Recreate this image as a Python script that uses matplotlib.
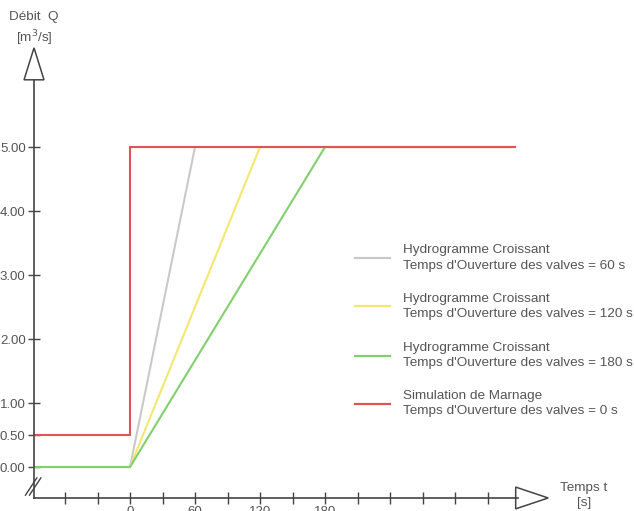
import matplotlib
matplotlib.use('Agg')
from matplotlib import pyplot as plt
from matplotlib.patches import Polygon
import numpy as np

plt.rcParams['font.family'] = ['Liberation Sans', 'DejaVu Sans']

# donnees (temps en s, debit en m3/s)
t_debut = -88.6
t_fin = 355
t_60 = [t_debut, 0, 60, t_fin]
q_60 = [0, 0, 5, 5]
t_120 = [t_debut, 0, 120, t_fin]
q_120 = [0, 0, 5, 5]
t_180 = [t_debut, 0, 180, t_fin]
q_180 = [0, 0, 5, 5]
t_marnage = [t_debut, 0, 0, t_fin]
q_marnage = [0.5, 0.5, 5, 5]

yticks = [0.0, 0.5, 1.0, 2.0, 3.0, 4.0, 5.0]
xticks = np.arange(-60, 331, 30)
xlabels_vis = [0, 60, 120, 180]

leg_titres = ['Hydrogramme Croissant', 'Hydrogramme Croissant',
              'Hydrogramme Croissant', 'Simulation de Marnage']
leg_temps = [60, 120, 180, 0]
couleurs = ['#c9c9c9', '#f2e870', '#82cf6e', '#e05454']

gris_txt = '#555555'
gris_axe = '#444444'

fig = plt.figure(figsize=(6.34, 5.11), dpi=100)
ax = fig.add_axes([0, 0, 1, 1])
ax.set_xlim(-120, 465.2)
ax.set_ylim(-0.6875, 7.297)

y_axe_x = -0.484
for t, q, c in zip([t_60, t_120, t_180, t_marnage],
                   [q_60, q_120, q_180, q_marnage], couleurs):
    ax.plot(t, q, color=c, lw=1.5, solid_joinstyle='miter')

# axes
for s in ['top', 'right']:
    ax.spines[s].set_visible(False)
ax.spines['left'].set_position(('data', t_debut))
ax.spines['left'].set_bounds(y_axe_x, 6.05)
ax.spines['bottom'].set_position(('data', y_axe_x))
ax.spines['bottom'].set_bounds(t_debut, 358)
for s in ['left', 'bottom']:
    ax.spines[s].set_color(gris_axe)
    ax.spines[s].set_linewidth(1.2)

ax.set_yticks(yticks)
ax.set_yticklabels(['%.2f' % v for v in yticks])
ax.set_xticks(xticks)
ax.set_xticklabels([str(v) if v in xlabels_vis else '' for v in xticks])
ax.tick_params(axis='both', direction='inout', length=8, width=1,
               colors=gris_axe, labelcolor=gris_txt, labelsize=9.5, pad=2)

# fleches
fl_y = Polygon([[-97.8, 6.05], [-79.4, 6.05], [t_debut, 6.55]], closed=True,
               fc='white', ec=gris_axe, lw=1.1, clip_on=False)
fl_x = Polygon([[356, y_axe_x - 0.17], [356, y_axe_x + 0.17], [386, y_axe_x]],
               closed=True, fc='white', ec=gris_axe, lw=1.1, clip_on=False)
ax.add_patch(fl_y)
ax.add_patch(fl_x)

# coupure de l'axe
for dx in [0, 3.7]:
    ax.plot([-96.5 + dx, -86 + dx], [-0.44, -0.17], color=gris_axe, lw=1)

ax.text(t_debut, 6.84, 'Débit  Q\n[m$^3$/s]', ha='center', va='center',
        color=gris_txt, fontsize=9.7, linespacing=1.4)
ax.text(419, -0.44, 'Temps t\n[s]', ha='center', va='center',
        color=gris_txt, fontsize=9.7, linespacing=1.3)

# legende
leg_y = [3.27, 2.51, 1.74, 0.99]
for titre, tps, c, y in zip(leg_titres, leg_temps, couleurs, leg_y):
    ax.plot([208, 240], [y, y], color=c, lw=1.6)
    ax.text(252, y, titre + "\nTemps d'Ouverture des valves = %d s" % tps,
            ha='left', va='center', color=gris_txt, fontsize=9.7,
            linespacing=1.4)

fig.savefig('out.png', dpi=100)
